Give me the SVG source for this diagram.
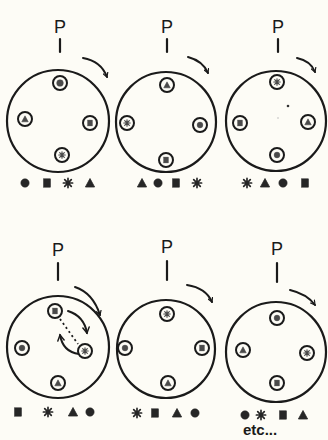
<svg xmlns="http://www.w3.org/2000/svg" xmlns:xlink="http://www.w3.org/1999/xlink" width="328" height="440" viewBox="0 0 328 440">
<style>
.big{fill:none;stroke:#1a1a1a;stroke-width:2.2}
.ring{fill:#fdfcf6;stroke:#1a1a1a;stroke-width:2}
.stem{stroke:#1a1a1a;stroke-width:2.2;stroke-linecap:round}
.arr{fill:none;stroke:#1a1a1a;stroke-width:2;stroke-linecap:round}
.p{font-family:"Liberation Sans",Arial,sans-serif;font-size:18px;fill:#1a1a1a}
.etc{font-family:"Liberation Sans",Arial,sans-serif;font-size:15px;font-weight:bold;fill:#1a1a1a}
.sym{fill:#262626;stroke:#262626}
.in{fill:#4a4a4a;stroke:#4a4a4a}
.star{fill:none;stroke-width:1.7;stroke-linecap:round}
</style>
<defs>
<marker id="ah" viewBox="0 0 10 10" refX="8" refY="5" markerWidth="6" markerHeight="6" orient="auto" markerUnits="userSpaceOnUse">
<path d="M1,1 L8,5 L1,9" fill="none" stroke="#1a1a1a" stroke-width="2" stroke-linecap="round"/>
</marker>
<marker id="ahs" viewBox="0 0 10 10" refX="8" refY="5" markerWidth="8" markerHeight="8" orient="auto" markerUnits="userSpaceOnUse">
<path d="M1,1 L8,5 L1,9" fill="none" stroke="#1a1a1a" stroke-width="1.8" stroke-linecap="round"/>
</marker>
<g id="s-c"><circle r="4.2" stroke-width="0.5"/></g>
<g id="s-q"><rect x="-3.5" y="-4.2" width="7" height="8.4" stroke-width="0.5"/></g>
<g id="s-t"><polygon points="0,-4.5 4.6,4 -4.6,4" stroke-width="0.8" stroke-linejoin="round"/></g>
<g id="s-s"><path class="star" d="M0,-4.6V4.6M-4.6,0H4.6M-3.3,-3.3L3.3,3.3M-3.3,3.3L3.3,-3.3"/></g>
</defs>
<rect width="328" height="440" fill="#fdfcf6"/>

<g id="connectors">
<path class="arr" d="M83,58 Q101,61 107,77" marker-end="url(#ah)"/>
<path class="arr" d="M188,57 Q203,61 208,73" marker-end="url(#ah)"/>
<path class="arr" d="M297,58 Q311,61 315,72" marker-end="url(#ah)"/>
<path class="arr" d="M75,287 Q93,293 100,315" marker-end="url(#ah)"/>
<path class="arr" d="M187,285 Q206,288 212,302" marker-end="url(#ah)"/>
<path class="arr" d="M290,290 Q307,294 315,305" marker-end="url(#ah)"/>
<path d="M60,319 L78,344" fill="none" stroke="#1a1a1a" stroke-width="1.8" stroke-dasharray="2,3"/>
<path class="arr" d="M68,311 Q84,316 87,333" marker-end="url(#ahs)"/>
<path class="arr" d="M79,354 Q63,352 60,335" marker-end="url(#ahs)"/>
</g>

<g id="panel1">
<text class="p" x="60" y="33" text-anchor="middle">P</text>
<line class="stem" x1="60" y1="39" x2="60" y2="52"/>
<circle class="big" cx="58" cy="121" r="51"/>
<g id="p1-top"><circle class="ring" cx="60" cy="83" r="7"/><use href="#s-c" class="in" transform="translate(60,83) scale(0.8)"/></g>
<g id="p1-right"><circle class="ring" cx="90" cy="123" r="7"/><use href="#s-q" class="in" transform="translate(90,123) scale(0.7)"/></g>
<g id="p1-bottom"><circle class="ring" cx="62" cy="155" r="7"/><use href="#s-s" class="in" transform="translate(62,155) scale(0.7)"/></g>
<g id="p1-left"><circle class="ring" cx="25" cy="119" r="7"/><use href="#s-t" class="in" transform="translate(25,119) scale(0.7)"/></g>
<g id="p1-order"><use href="#s-c" class="sym" transform="translate(25,183)"/><use href="#s-q" class="sym" transform="translate(47,183)"/><use href="#s-s" class="sym" transform="translate(68,183)"/><use href="#s-t" class="sym" transform="translate(90,183)"/></g>
</g>

<g id="panel2">
<text class="p" x="167" y="33" text-anchor="middle">P</text>
<line class="stem" x1="167" y1="39" x2="167" y2="52"/>
<circle class="big" cx="166" cy="122" r="50"/>
<g id="p2-top"><circle class="ring" cx="167" cy="85" r="7"/><use href="#s-t" class="in" transform="translate(167,85) scale(0.7)"/></g>
<g id="p2-right"><circle class="ring" cx="200" cy="125" r="7"/><use href="#s-c" class="in" transform="translate(200,125) scale(0.7)"/></g>
<g id="p2-bottom"><circle class="ring" cx="166" cy="160" r="7"/><use href="#s-q" class="in" transform="translate(166,160) scale(0.7)"/></g>
<g id="p2-left"><circle class="ring" cx="127" cy="123" r="7"/><use href="#s-s" class="in" transform="translate(127,123) scale(0.7)"/></g>
<g id="p2-order"><use href="#s-t" class="sym" transform="translate(142,183)"/><use href="#s-c" class="sym" transform="translate(158,183)"/><use href="#s-q" class="sym" transform="translate(176,183)"/><use href="#s-s" class="sym" transform="translate(197,183)"/></g>
</g>

<g id="panel3">
<text class="p" x="278" y="33" text-anchor="middle">P</text>
<line class="stem" x1="278" y1="39" x2="278" y2="52"/>
<circle class="big" cx="276" cy="121" r="50"/>
<circle cx="288" cy="106" r="1.3" fill="#333"/>
<circle cx="278" cy="118" r="0.8" fill="#bbb"/>
<g id="p3-top"><circle class="ring" cx="277" cy="82" r="7"/><use href="#s-s" class="in" transform="translate(277,82) scale(0.7)"/></g>
<g id="p3-right"><circle class="ring" cx="308" cy="122" r="7"/><use href="#s-t" class="in" transform="translate(308,122) scale(0.7)"/></g>
<g id="p3-bottom"><circle class="ring" cx="277" cy="155" r="7"/><use href="#s-c" class="in" transform="translate(277,155) scale(0.7)"/></g>
<g id="p3-left"><circle class="ring" cx="240" cy="123" r="7"/><use href="#s-q" class="in" transform="translate(240,123) scale(0.7)"/></g>
<g id="p3-order"><use href="#s-s" class="sym" transform="translate(247,183)"/><use href="#s-t" class="sym" transform="translate(265,183)"/><use href="#s-c" class="sym" transform="translate(283,183)"/><use href="#s-q" class="sym" transform="translate(305,183)"/></g>
</g>

<g id="panel4">
<text class="p" x="58" y="256" text-anchor="middle">P</text>
<line class="stem" x1="58" y1="263" x2="58" y2="280"/>
<circle class="big" cx="58" cy="347" r="51"/>
<g id="p4-top"><circle class="ring" cx="55" cy="311" r="7"/><use href="#s-q" class="in" transform="translate(55,311) scale(0.7)"/></g>
<g id="p4-right"><circle class="ring" cx="85" cy="351" r="7"/><use href="#s-s" class="in" transform="translate(85,351) scale(0.7)"/></g>
<g id="p4-bottom"><circle class="ring" cx="58" cy="383" r="7"/><use href="#s-t" class="in" transform="translate(58,383) scale(0.7)"/></g>
<g id="p4-left"><circle class="ring" cx="22" cy="348" r="7"/><use href="#s-c" class="in" transform="translate(22,348) scale(0.7)"/></g>
<g id="p4-order"><use href="#s-q" class="sym" transform="translate(18,412)"/><use href="#s-s" class="sym" transform="translate(48,412)"/><use href="#s-t" class="sym" transform="translate(73,412)"/><use href="#s-c" class="sym" transform="translate(90,412)"/></g>
</g>

<g id="panel5">
<text class="p" x="167" y="253" text-anchor="middle">P</text>
<line class="stem" x1="167" y1="261" x2="167" y2="280"/>
<circle class="big" cx="166" cy="349" r="49"/>
<g id="p5-top"><circle class="ring" cx="167" cy="314" r="7"/><use href="#s-s" class="in" transform="translate(167,314) scale(0.7)"/></g>
<g id="p5-right"><circle class="ring" cx="202" cy="348" r="7"/><use href="#s-q" class="in" transform="translate(202,348) scale(0.7)"/></g>
<g id="p5-bottom"><circle class="ring" cx="168" cy="383" r="7"/><use href="#s-t" class="in" transform="translate(168,383) scale(0.7)"/></g>
<g id="p5-left"><circle class="ring" cx="125" cy="348" r="7"/><use href="#s-c" class="in" transform="translate(125,348) scale(0.7)"/></g>
<g id="p5-order"><use href="#s-s" class="sym" transform="translate(137,413)"/><use href="#s-q" class="sym" transform="translate(155,413)"/><use href="#s-t" class="sym" transform="translate(177,413)"/><use href="#s-c" class="sym" transform="translate(195,413)"/></g>
</g>

<g id="panel6">
<text class="p" x="277" y="255" text-anchor="middle">P</text>
<line class="stem" x1="277" y1="263" x2="277" y2="282"/>
<circle class="big" cx="276" cy="352" r="50"/>
<g id="p6-top"><circle class="ring" cx="277" cy="318" r="7"/><use href="#s-c" class="in" transform="translate(277,318) scale(0.7)"/></g>
<g id="p6-right"><circle class="ring" cx="307" cy="353" r="7"/><use href="#s-s" class="in" transform="translate(307,353) scale(0.7)"/></g>
<g id="p6-bottom"><circle class="ring" cx="277" cy="383" r="7"/><use href="#s-q" class="in" transform="translate(277,383) scale(0.7)"/></g>
<g id="p6-left"><circle class="ring" cx="243" cy="350" r="7"/><use href="#s-t" class="in" transform="translate(243,350) scale(0.7)"/></g>
<g id="p6-order"><use href="#s-c" class="sym" transform="translate(245,415)"/><use href="#s-s" class="sym" transform="translate(261,415)"/><use href="#s-q" class="sym" transform="translate(283,415)"/><use href="#s-t" class="sym" transform="translate(303,415)"/></g>
<text class="etc" x="243" y="435">etc...</text>
</g>
</svg>
